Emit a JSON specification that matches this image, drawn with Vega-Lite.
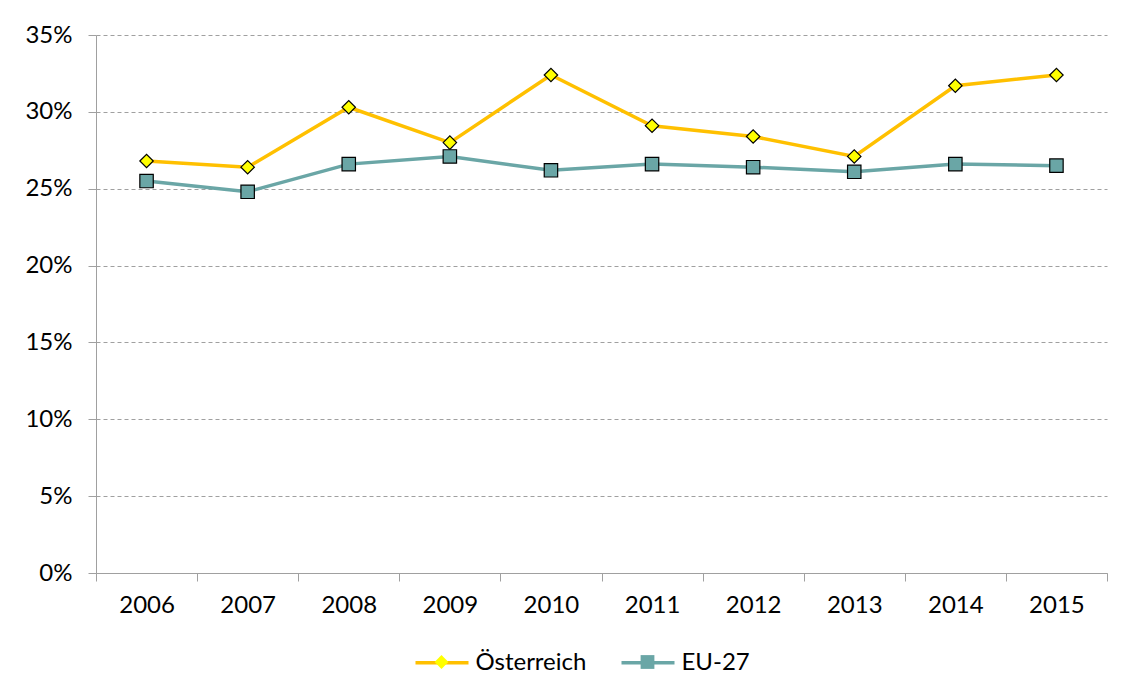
{
  "$schema": "https://vega.github.io/schema/vega-lite/v6.json",
  "width": 1011,
  "height": 538,
  "autosize": {"type": "none"},
  "padding": {"left": 96, "top": 35, "right": 23, "bottom": 124},
  "background": "white",
  "config": {"view": {"stroke": null}, "font": "Lato", "legend": {"padding": 0}},
  "data": {
    "values": [
      {"year": "2006", "series": "Österreich", "value": 0.268},
      {"year": "2007", "series": "Österreich", "value": 0.264},
      {"year": "2008", "series": "Österreich", "value": 0.303},
      {"year": "2009", "series": "Österreich", "value": 0.280},
      {"year": "2010", "series": "Österreich", "value": 0.324},
      {"year": "2011", "series": "Österreich", "value": 0.291},
      {"year": "2012", "series": "Österreich", "value": 0.284},
      {"year": "2013", "series": "Österreich", "value": 0.271},
      {"year": "2014", "series": "Österreich", "value": 0.317},
      {"year": "2015", "series": "Österreich", "value": 0.324},
      {"year": "2006", "series": "EU-27", "value": 0.255},
      {"year": "2007", "series": "EU-27", "value": 0.248},
      {"year": "2008", "series": "EU-27", "value": 0.266},
      {"year": "2009", "series": "EU-27", "value": 0.271},
      {"year": "2010", "series": "EU-27", "value": 0.262},
      {"year": "2011", "series": "EU-27", "value": 0.266},
      {"year": "2012", "series": "EU-27", "value": 0.264},
      {"year": "2013", "series": "EU-27", "value": 0.261},
      {"year": "2014", "series": "EU-27", "value": 0.266},
      {"year": "2015", "series": "EU-27", "value": 0.265}
    ]
  },
  "encoding": {
    "x": {
      "field": "year",
      "type": "ordinal",
      "scale": {"type": "band", "paddingInner": 0, "paddingOuter": 0},
      "axis": {
        "title": null,
        "labelAngle": 0,
        "labelFontSize": 24,
        "labelColor": "#000000",
        "labelPadding": 12,
        "tickBand": "extent",
        "tickSize": 8,
        "tickColor": "#A0A0A0",
        "domainColor": "#A0A0A0",
        "grid": false
      }
    },
    "y": {
      "field": "value",
      "type": "quantitative",
      "scale": {"domain": [0, 0.35], "nice": false},
      "axis": {
        "title": null,
        "values": [0, 0.05, 0.1, 0.15, 0.2, 0.25, 0.3, 0.35],
        "format": ".0%",
        "labelFontSize": 24,
        "labelColor": "#000000",
        "labelPadding": 16,
        "tickSize": 8,
        "tickColor": "#A0A0A0",
        "domainColor": "#A0A0A0",
        "grid": true,
        "gridColor": "#A0A0A0",
        "gridDash": [4, 3],
        "gridWidth": 1
      }
    }
  },
  "layer": [
    {
      "mark": {"type": "line", "strokeWidth": 3.5},
      "encoding": {
        "color": {
          "field": "series",
          "type": "nominal",
          "sort": "descending",
          "scale": {"range": ["#FFC000", "#6AA6A6"]},
          "legend": {
            "orient": "none",
            "legendX": 317.5,
            "legendY": 599,
            "direction": "horizontal",
            "title": null,
            "labelFontSize": 24,
            "labelColor": "#000000",
            "labelOffset": 5,
            "columnPadding": 28,
            "symbolType": "stroke",
            "symbolSize": 2809,
            "symbolStrokeWidth": 3.5
          }
        }
      }
    },
    {
      "mark": {"type": "point", "filled": true, "stroke": "#000000", "strokeWidth": 1.2, "opacity": 1, "size": 180},
      "encoding": {
        "shape": {
          "field": "series",
          "type": "nominal",
          "scale": {"domain": ["Österreich", "EU-27"], "range": ["diamond", "square"]},
          "legend": {
            "orient": "none",
            "legendX": 333.5,
            "legendY": 615,
            "direction": "horizontal",
            "title": null,
            "labelFontSize": 24,
            "labelExpr": "''",
            "labelOffset": 0,
            "columnPadding": 182,
            "symbolSize": 190,
            "symbolStrokeColor": "#000000",
            "symbolStrokeWidth": 1.2,
            "symbolOpacity": 1
          }
        },
        "fill": {
          "field": "series",
          "type": "nominal",
          "scale": {"domain": ["Österreich", "EU-27"], "range": ["#FFFF00", "#6AA6A6"]},
          "legend": {
            "orient": "none",
            "legendX": 333.5,
            "legendY": 615,
            "direction": "horizontal",
            "title": null,
            "labelFontSize": 24,
            "labelExpr": "''",
            "labelOffset": 0,
            "columnPadding": 182,
            "symbolSize": 190,
            "symbolStrokeColor": "#000000",
            "symbolStrokeWidth": 1.2,
            "symbolOpacity": 1
          }
        }
      }
    }
  ]
}
